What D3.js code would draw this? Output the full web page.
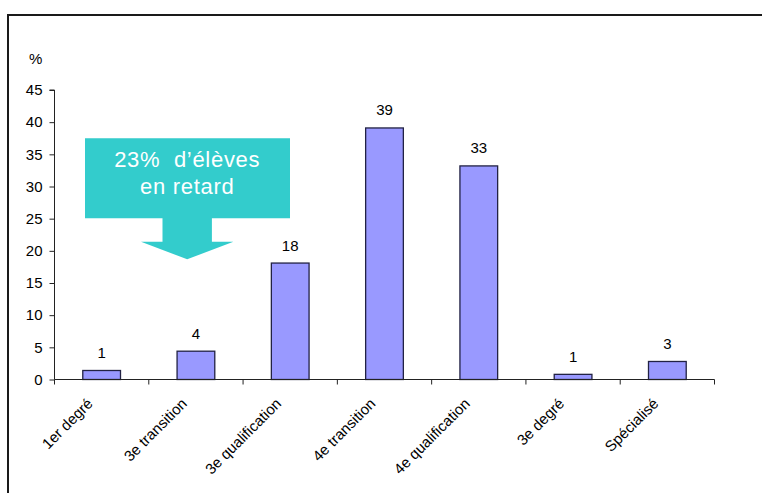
<!DOCTYPE html>
<html>
<head>
<meta charset="utf-8">
<script src="https://cdn.jsdelivr.net/npm/d3@7"></script>
<style>
  html, body { margin: 0; padding: 0; background: #fff; }
  svg { display: block; }
  text { font-family: "Liberation Sans", Arial, sans-serif; }
</style>
</head>
<body>
<script>
const categories = ["1er degré", "3e transition", "3e qualification", "4e transition", "4e qualification", "3e degré", "Spécialisé"];
const values = [1.4, 4.4, 18.1, 39.1, 33.2, 0.8, 2.8];
const yTicks = [0, 5, 10, 15, 20, 25, 30, 35, 40, 45];
const yUnit = "%";
const calloutLines = ["23%  d’élèves", "en retard"];

(function () {
const W = 762, H = 493;
const FS = 15;
const svg = d3.select("body").append("svg").attr("width", W).attr("height", H);

// outer frame (extends beyond viewport on right/bottom)
svg.append("rect")
  .attr("x", 8).attr("y", 15).attr("width", W + 20).attr("height", H + 20)
  .attr("fill", "none").attr("stroke", "#1a1a1a").attr("stroke-width", 2);

const pl = 54.5, pr = 714.5, pt = 90, pb = 379.5;

const xCat = d3.scaleBand().domain(categories).range([pl, pr]).padding(0);
const xBar = d3.scaleBand().domain(categories).range([pl, pr]).paddingInner(0.6).paddingOuter(0.3);
const y = d3.scaleLinear().domain([0, 45]).range([pb, pt]);

// Y axis
const yAxis = d3.axisLeft(y).tickValues(yTicks).tickSize(5).tickPadding(7).tickFormat(d3.format("d"));
const gy = svg.append("g").attr("transform", `translate(${pl},0)`).call(yAxis);
gy.attr("font-size", FS).attr("font-family", "Liberation Sans, Arial, sans-serif");
gy.select(".domain").attr("stroke", "#222").attr("stroke-width", 1).attr("d", `M-5,${pt}H0V${pb}`);
gy.selectAll(".tick line").attr("stroke", "#222");
gy.selectAll(".tick text").attr("fill", "#000");

svg.append("text").attr("x", 29).attr("y", 64).attr("font-size", FS).text(yUnit);

// bars
svg.append("g").selectAll("rect").data(values).join("rect")
  .attr("x", (d, i) => xBar(categories[i]))
  .attr("width", xBar.bandwidth())
  .attr("y", d => y(d))
  .attr("height", d => y(0) - y(d))
  .attr("fill", "#9999FF")
  .attr("stroke", "#222244")
  .attr("stroke-width", 1.3);

// value labels
svg.append("g").selectAll("text").data(values).join("text")
  .attr("x", (d, i) => xBar(categories[i]) + xBar.bandwidth() / 2)
  .attr("y", d => y(d) - 12.5)
  .attr("text-anchor", "middle")
  .attr("font-size", FS)
  .text(d => d3.format(".0f")(d));

// X axis: ticks at category boundaries
const gx = svg.append("g");
gx.append("line").attr("x1", pl).attr("x2", pr).attr("y1", pb).attr("y2", pb)
  .attr("stroke", "#222").attr("stroke-width", 1);
const bounds = categories.map(c => xCat(c)).concat([xCat(categories[categories.length - 1]) + xCat.bandwidth()]);
gx.selectAll("line.tk").data(bounds).join("line").attr("class", "tk")
  .attr("x1", d => d).attr("x2", d => d).attr("y1", pb).attr("y2", pb + 5)
  .attr("stroke", "#222");
gx.selectAll("text").data(categories).join("text")
  .attr("transform", c => `translate(${xCat(c) + xCat.bandwidth() / 2 - 8},${pb + 25}) rotate(-45)`)
  .attr("text-anchor", "end")
  .attr("font-size", FS)
  .text(c => c);

// callout arrow annotation
const bx0 = 85, bx1 = 290, by0 = 138.3, by1 = 218.3;
const cx = (bx0 + bx1) / 2 - 0.3;
const shaftHalf = 24.7, headHalf = 46.2, shaftEnd = 241.7, tip = 259.3;
const pts = [[bx0, by0], [bx1, by0], [bx1, by1], [cx + shaftHalf, by1], [cx + shaftHalf, shaftEnd],
  [cx + headHalf, shaftEnd], [cx, tip], [cx - headHalf, shaftEnd], [cx - shaftHalf, shaftEnd],
  [cx - shaftHalf, by1], [bx0, by1]];
svg.append("path").attr("d", d3.line()(pts) + "Z").attr("fill", "#33CCCC");
svg.append("g").selectAll("text").data(calloutLines).join("text")
  .attr("x", cx).attr("y", (d, i) => 167 + i * 26.5)
  .attr("text-anchor", "middle")
  .attr("font-family", "DejaVu Sans, Verdana, sans-serif")
  .attr("font-size", 22)
  .attr("letter-spacing", 0.7)
  .attr("fill", "#fff")
  .style("white-space", "pre")
  .text(d => d);
})();
</script>
</body>
</html>
